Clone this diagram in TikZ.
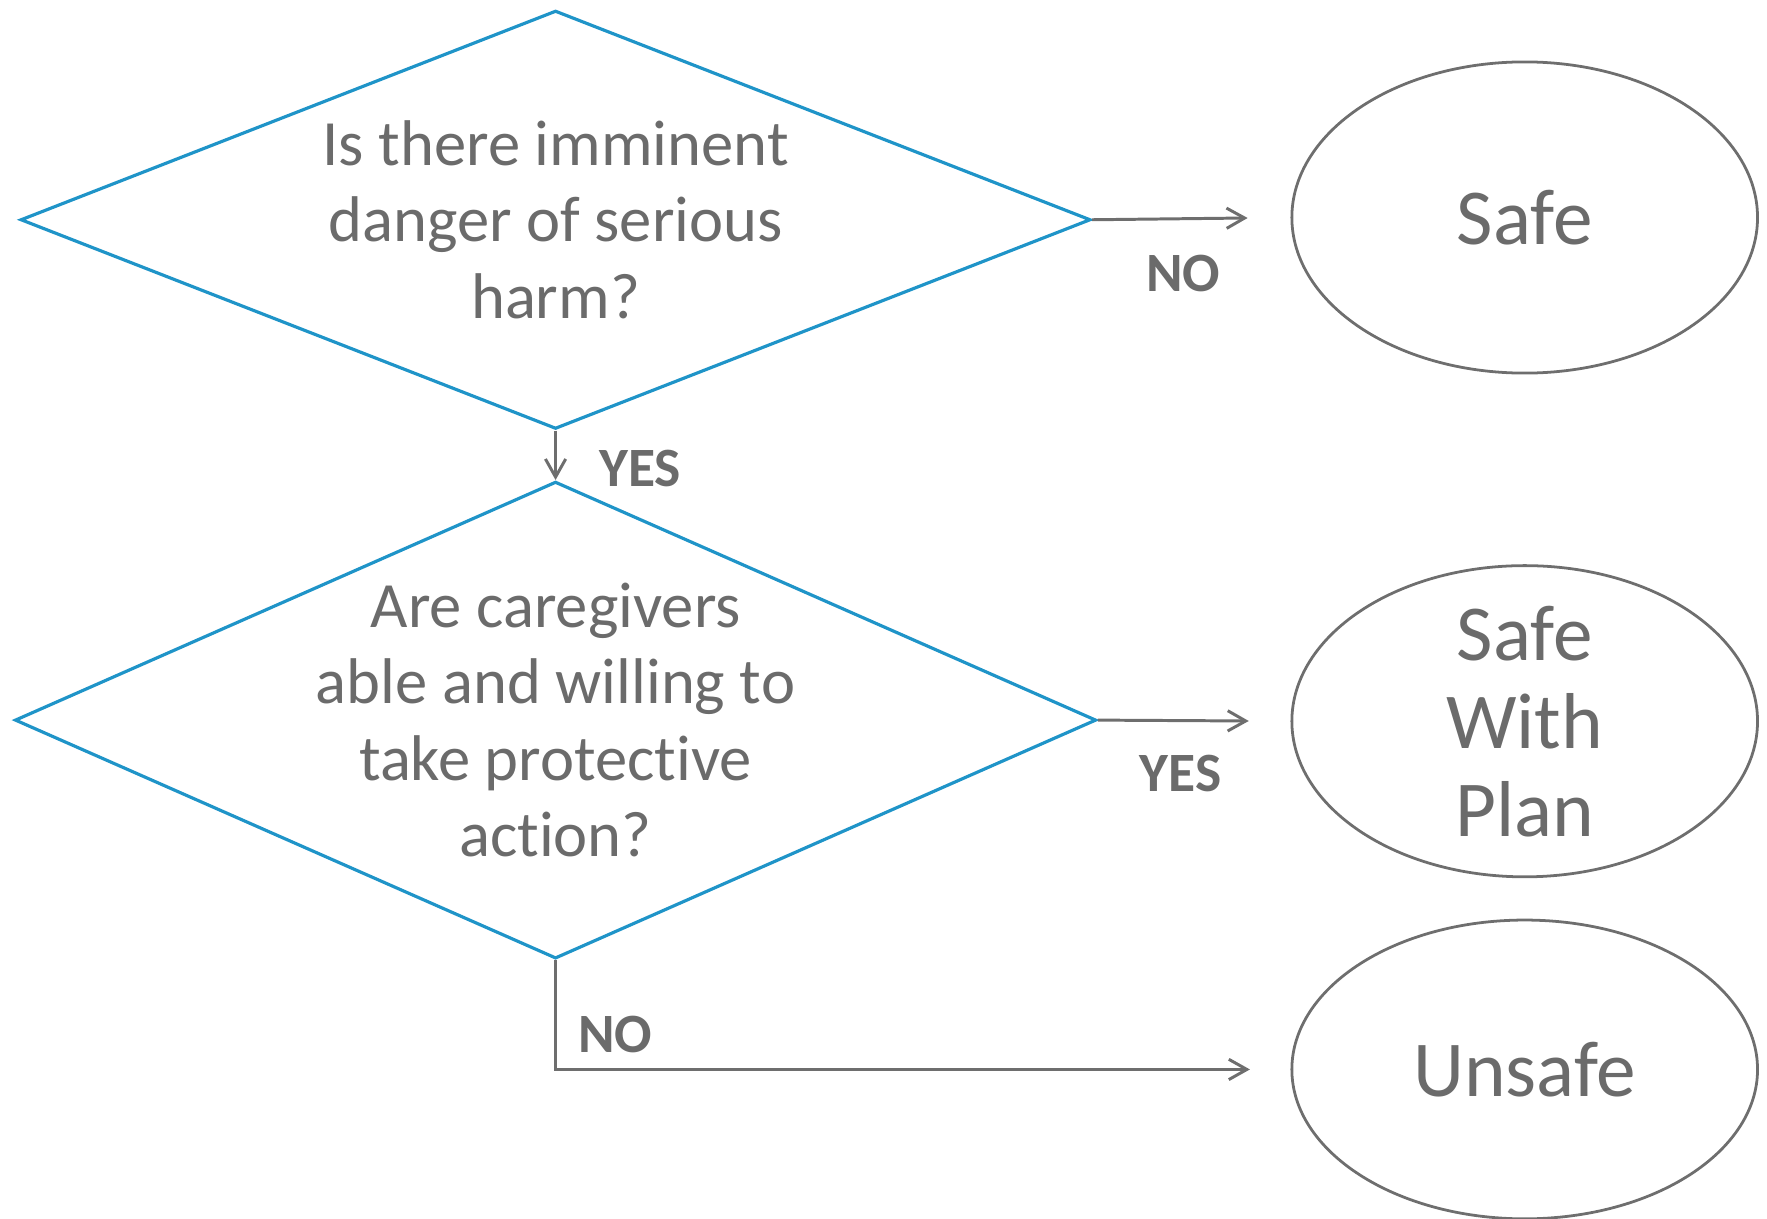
\documentclass[tikz,border=0pt]{standalone}
\usepackage{fontspec}
\setmainfont[Ligatures=NoCommon]{Carlito}
\usetikzlibrary{shapes.geometric,arrows.meta}
\definecolor{qblue}{HTML}{1F94C8}
\definecolor{linegray}{HTML}{6E6E6E}
\definecolor{textgray}{HTML}{6B6B6B}
\begin{document}
\begin{tikzpicture}[x=0.01cm,y=-0.01cm]

    % let's define some key values
    \def\xq{493}
    \def\xend{1353}
    \def\gapend{3.8mm}

    % Styles
    \tikzstyle{decision}=[diamond, draw=qblue, line width=0.8pt, inner sep=0pt]
    \tikzstyle{outcome}=[ellipse, draw=linegray, line width=0.7pt, inner sep=0pt, minimum width=41.3mm]
    \tikzstyle{qtext}=[text=textgray, align=center, font=\fontsize{16.3}{19.3}\selectfont]
    \tikzstyle{otext}=[text=textgray, align=center, font=\fontsize{20}{22.2}\selectfont]
    \tikzstyle{answer}=[text=textgray, inner sep=0pt, font=\fontsize{14}{16}\selectfont\bfseries]
    \tikzstyle{flow}=[draw=linegray, line width=0.75pt, -{Straight Barb[length=1.6mm,width=1.8mm]}, shorten >=\gapend]

    \useasboundingbox (0,0) rectangle (1568,1081);

    % questions
    \node[decision, minimum width=94.9mm, minimum height=37.1mm,
          label={[qtext]center:{Is there imminent\\danger of serious\\harm?}}] (danger) at (\xq,195) {};
    \node[decision, minimum width=95.9mm, minimum height=42.3mm,
          label={[qtext]center:{Are caregivers\\able and willing to\\take protective\\action?}}] (caregivers) at (\xq,639) {};

    % outcomes
    \node[outcome, minimum height=27.6mm, label={[otext]center:Safe}] (safe) at (\xend,193) {};
    \node[outcome, minimum height=27.6mm, label={[otext]center:{Safe\\With\\Plan}}] (plan) at (\xend,640) {};
    \node[outcome, minimum height=26.5mm, label={[otext]center:Unsafe}] (unsafe) at (\xend,949) {};

    % answers
    \draw[flow] (danger.east) -- (safe.west) node[answer, pos=0.46, yshift=-4.9mm] (no1) {NO};
    \draw[flow, shorten >=0pt] (danger.south) -- (caregivers.north) node[answer, pos=0.77, xshift=7.5mm] (yes1) {YES};
    \draw[flow, shorten >=3.7mm] (caregivers.east) -- (plan.west) node[answer, pos=0.43, yshift=-4.7mm] (yes2) {YES};
    \draw[flow, shorten >=3.6mm] (caregivers.south) |- (unsafe.west) node[answer, pos=0.34, xshift=5.3mm] (no2) {NO};

\end{tikzpicture}
\end{document}
